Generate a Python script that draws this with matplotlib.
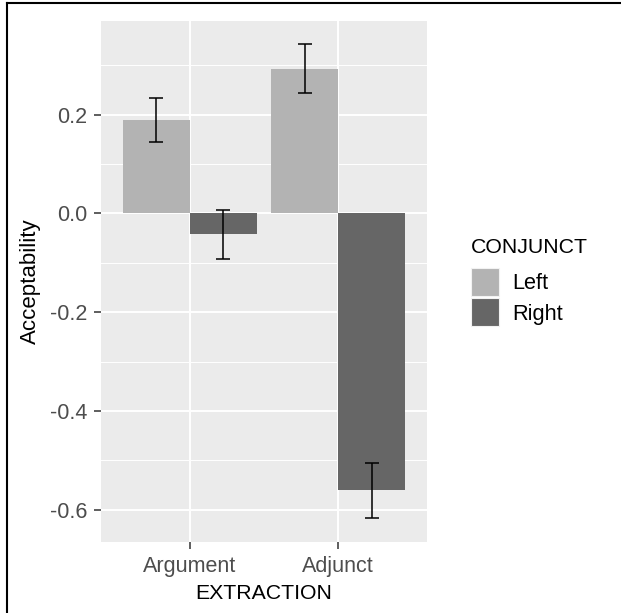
import matplotlib
matplotlib.use("Agg")
import matplotlib.pyplot as plt
import numpy as np
from matplotlib.patches import Rectangle
from matplotlib.lines import Line2D

plt.rcParams['font.family'] = ['Liberation Sans', 'DejaVu Sans']

extraction = ["Argument", "Adjunct"]
conjunct = ["Left", "Right"]
values_left = [0.189, 0.2925]
values_right = [-0.042, -0.560]
lower_left = [0.1447, 0.244]
upper_left = [0.234, 0.3425]
lower_right = [-0.092, -0.617]
upper_right = [0.0065, -0.505]
yticks = [-0.6, -0.4, -0.2, 0.0, 0.2]
yminor = [-0.5, -0.3, -0.1, 0.1, 0.3]

colors = {"Left": "#B3B3B3", "Right": "#666666"}

W, H = 621, 613
fig = plt.figure(figsize=(W / 100, H / 100), dpi=100)
ax = fig.add_axes([100.5 / W, (H - 541.7) / H, (427.5 - 100.5) / W, (541.7 - 21) / H])
ax.set_facecolor("#EBEBEB")

x = np.arange(1, len(extraction) + 1)
bw = 0.45
series = [("Left", values_left, lower_left, upper_left, -bw / 2),
          ("Right", values_right, lower_right, upper_right, bw / 2)]
for name, vals, lo, hi, off in series:
    ax.bar(x + off, vals, width=bw, color=colors[name], zorder=3)
    vals = np.array(vals)
    yerr = np.vstack([vals - np.array(lo), np.array(hi) - vals])
    ax.errorbar(x + off, vals, yerr=yerr, fmt='none', ecolor='black',
                elinewidth=1.1, capsize=5.3, capthick=1.1, zorder=4)

ax.set_xlim(0.4, 2.6)
ax.set_ylim(-0.665, 0.390)
ax.set_xticks(x)
ax.set_xticklabels(extraction)
ax.set_yticks(yticks)
ax.set_yticklabels([f"{v:.1f}" for v in yticks])
ax.set_yticks(yminor, minor=True)
ax.grid(True, which='major', color='white', linewidth=1.4, zorder=0)
ax.grid(True, which='minor', axis='y', color='white', linewidth=0.7, zorder=0)
ax.set_axisbelow(True)
for s in ax.spines.values():
    s.set_visible(False)
ax.tick_params(axis='both', which='major', length=4.7, width=1.1, color='#333333',
               labelcolor='#4D4D4D', labelsize=15.5)
ax.tick_params(axis='x', which='major', pad=5.8)
ax.tick_params(axis='y', which='major', pad=4.8)
ax.tick_params(axis='y', which='minor', length=0)

ax.set_xlabel("EXTRACTION", fontsize=15.3, color='black', va='baseline')
ax.set_ylabel("Acceptability", fontsize=16, color='black', va='center')
ax.xaxis.set_label_coords(0.5, (541.7 - 599) / (541.7 - 21))
ax.yaxis.set_label_coords((30 - 100.5) / 327, 0.5)

# legend (ggplot style, drawn in figure pixel coordinates)
def fx(px):
    return px / W

def fy(py):
    return 1 - py / H

fig.text(fx(470.7), fy(253.3), "CONJUNCT", fontsize=15.3, color='black', va='baseline', ha='left')
key_tops = [267.7, 298.0]
key_h = 28.0
for c, top in zip(conjunct, key_tops):
    fig.add_artist(Rectangle((fx(471), fy(top + key_h)), 28.3 / W, key_h / H,
                             facecolor=colors[c], edgecolor='#F2F2F2', linewidth=0.8,
                             transform=fig.transFigure))
    fig.text(fx(512), fy(top + key_h / 2 + 7.7), c, fontsize=15.7, color='black',
             va='baseline', ha='left')

# figure border lines (top and left)
fig.add_artist(Line2D([6.7 / W, 1], [1 - 3 / H, 1 - 3 / H], color='black', linewidth=1.5,
                      transform=fig.transFigure))
fig.add_artist(Line2D([6.7 / W, 6.7 / W], [0, 1 - 3 / H], color='black', linewidth=1.5,
                      transform=fig.transFigure))

fig.savefig("out.png", dpi=100)
